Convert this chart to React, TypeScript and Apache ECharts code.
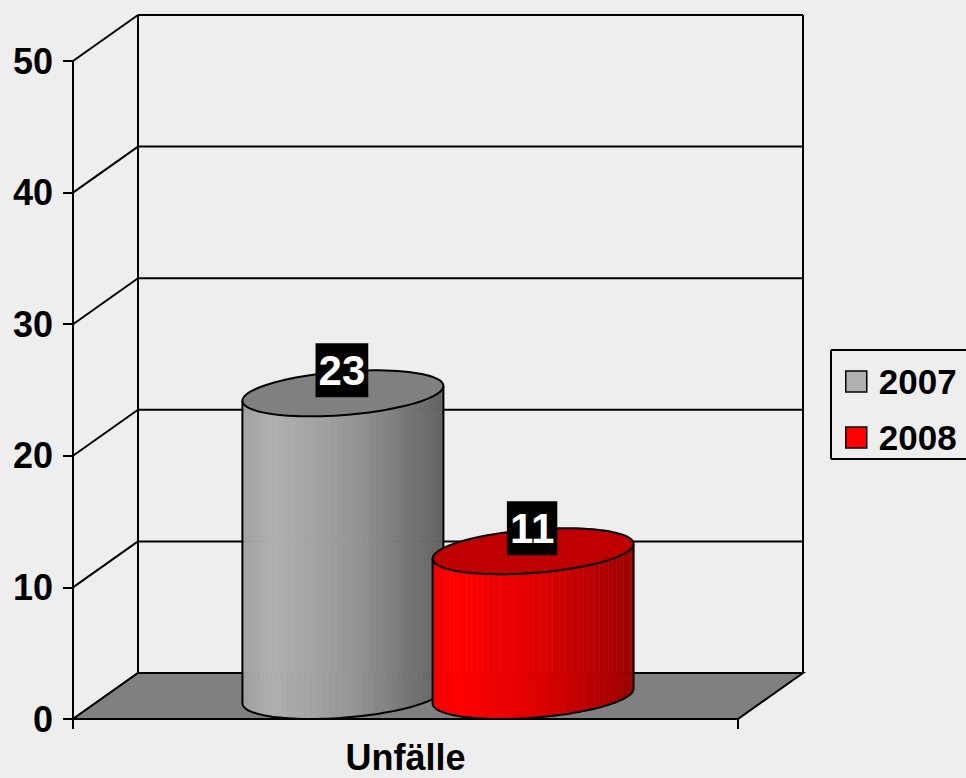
import React, { useEffect, useRef } from 'react';
import * as echarts from 'echarts';

const categories = ['Unfälle'];
const seriesNames = ['2007', '2008'];
const values2007 = [23];
const values2008 = [11];
const yTicks = [0, 10, 20, 30, 40, 50];

const DX = 65;
const DY = 46;
const FONT = '"Liberation Sans", Arial, sans-serif';
const BG = '#eeeeee';

type Stop = [number, [number, number, number]];
const grayStops: Stop[] = [
  [0, [160, 160, 160]],
  [0.15, [176, 176, 176]],
  [0.55, [150, 150, 150]],
  [1, [98, 98, 98]],
];
const redStops: Stop[] = [
  [0, [240, 0, 0]],
  [0.12, [255, 0, 0]],
  [0.55, [220, 0, 0]],
  [1, [155, 0, 0]],
];

function colorAt(stops: Stop[], t: number) {
  t = Math.max(0, Math.min(1, t));
  for (let i = 1; i < stops.length; i++) {
    if (t <= stops[i][0]) {
      const [t0, c0] = stops[i - 1];
      const [t1, c1] = stops[i];
      const f = (t - t0) / (t1 - t0 || 1);
      const c = c0.map((v, k) => Math.round(v + (c1[k] - v) * f));
      return `rgb(${c[0]},${c[1]},${c[2]})`;
    }
  }
  const c = stops[stops.length - 1][1];
  return `rgb(${c[0]},${c[1]},${c[2]})`;
}

function cylinderSeries(name: string, values: number[], idx: number, stops: Stop[], topColor: string, legendColor: string) {
  return {
    type: 'custom',
    name,
    z: 3,
    itemStyle: { color: legendColor },
    data: values.map((v, i) => [i, v]),
    renderItem: (params: any, api: any) => {
      const cat = api.value(0);
      const v = api.value(1);
      const bandW = api.size([1, 0])[0];
      const barW = bandW * 0.286;
      const r = barW / 2;
      const a = DX / 2;
      const b = DY / 2;
      const [cx0, yTop] = api.coord([cat, v]);
      const yBase = api.coord([cat, 0])[1];
      const fx = cx0 + (idx - 0.5) * barW + a;
      const ty = yTop - b;
      const by = yBase - b;
      const pt = (cy: number, th: number) => [fx + r * Math.cos(th) + a * Math.sin(th), cy - b * Math.sin(th)];
      const th0 = Math.atan2(a, r);
      const R = Math.sqrt(r * r + a * a);
      const leftX = fx - R;
      const N = 48;
      const children: any[] = [];
      for (let k = 0; k < N; k++) {
        const t1 = th0 + Math.PI + (Math.PI * k) / N;
        const t2 = th0 + Math.PI + (Math.PI * (k + 1)) / N;
        const p1 = pt(ty, t1), p2 = pt(ty, t2), p3 = pt(by, t2), p4 = pt(by, t1);
        const mid = (p1[0] + p2[0]) / 2;
        const col = colorAt(stops, (mid - leftX) / (2 * R));
        children.push({
          type: 'polygon',
          shape: { points: [p1, p2, p3, p4] },
          style: { fill: col, stroke: col, lineWidth: 0.6 },
        });
      }
      const sil: number[][] = [];
      sil.push(pt(ty, th0 + Math.PI));
      for (let k = 0; k <= 60; k++) sil.push(pt(by, th0 + Math.PI + (Math.PI * k) / 60));
      sil.push(pt(ty, th0));
      children.push({
        type: 'polyline',
        shape: { points: sil },
        style: { fill: null, stroke: '#000', lineWidth: 2 },
      });
      const topPts: number[][] = [];
      for (let k = 0; k < 90; k++) topPts.push(pt(ty, (2 * Math.PI * k) / 90));
      children.push({
        type: 'polygon',
        shape: { points: topPts },
        style: { fill: topColor, stroke: '#000', lineWidth: 2 },
      });
      children.push({
        type: 'text',
        x: fx - 1,
        y: ty - b,
        style: {
          text: String(v),
          fill: '#fff',
          backgroundColor: '#000',
          padding: [4, 3, 4, 3],
          font: `bold 42px ${FONT}`,
          lineHeight: 46,
          align: 'center',
          verticalAlign: 'middle',
        },
      });
      return { type: 'group', children };
    },
  };
}

export default function App() {
  const ref = useRef<HTMLDivElement>(null);
  useEffect(() => {
    if (!ref.current) return;
    const chart = echarts.init(ref.current, undefined, { renderer: 'svg' });
    const yMax = yTicks[yTicks.length - 1];
    const option: any = {
      animation: false,
      backgroundColor: BG,
      grid: { left: 73, right: 228, top: 61, bottom: 59 },
      graphic: [
        {
          type: 'line',
          shape: { x1: 831, y1: 350, x2: 980, y2: 350 },
          style: { stroke: '#000', lineWidth: 2 },
          z: 5,
        },
        {
          type: 'line',
          shape: { x1: 831, y1: 350, x2: 831, y2: 459 },
          style: { stroke: '#000', lineWidth: 2 },
          z: 5,
        },
        {
          type: 'line',
          shape: { x1: 831, y1: 459, x2: 980, y2: 459 },
          style: { stroke: '#000', lineWidth: 2 },
          z: 5,
        },
      ],
      legend: {
        orient: 'vertical',
        left: 831,
        top: 350,
        padding: [14, 0, 6, 14],
        itemWidth: 21,
        itemHeight: 21,
        itemGap: 21,
        borderWidth: 0,
        backgroundColor: 'transparent',
        selectedMode: false,
        textStyle: {
          fontFamily: FONT,
          fontSize: 35,
          fontWeight: 'bold',
          color: '#000',
          lineHeight: 34,
          padding: [0, 0, 0, 7],
        },
        data: [
          { name: seriesNames[0], icon: 'rect', itemStyle: { color: '#b0b0b0', borderColor: '#000', borderWidth: 1.5 } },
          { name: seriesNames[1], icon: 'rect', itemStyle: { color: '#ff0000', borderColor: '#000', borderWidth: 1.5 } },
        ],
      },
      xAxis: {
        type: 'category',
        data: categories,
        axisLine: { lineStyle: { color: '#000', width: 2 } },
        axisTick: { show: true, length: 10, lineStyle: { color: '#000', width: 2 } },
        axisLabel: { fontFamily: FONT, fontSize: 36, fontWeight: 'bold', color: '#000', margin: 20 },
        splitLine: { show: false },
      },
      yAxis: {
        type: 'value',
        min: 0,
        max: yMax,
        interval: 10,
        axisLine: { show: true, lineStyle: { color: '#000', width: 2 } },
        axisTick: { show: true, length: 10, lineStyle: { color: '#000', width: 2 } },
        axisLabel: { fontFamily: FONT, fontSize: 36, fontWeight: 'bold', color: '#000', margin: 20 },
        splitLine: { show: false },
      },
      series: [
        {
          type: 'custom',
          name: 'grid',
          z: 1,
          silent: true,
          data: yTicks.map((v) => [0, v]),
          renderItem: (params: any, api: any) => {
            const cs = params.coordSys;
            const y = api.coord([0, api.value(1)])[1];
            const x0 = cs.x;
            const x1 = cs.x + cs.width;
            return {
              type: 'group',
              children: [
                { type: 'line', shape: { x1: x0, y1: y, x2: x0 + DX, y2: y - DY }, style: { stroke: '#000', lineWidth: 2 } },
                { type: 'line', shape: { x1: x0 + DX, y1: y - DY, x2: x1 + DX, y2: y - DY }, style: { stroke: '#000', lineWidth: 2 } },
              ],
            };
          },
        },
        {
          type: 'custom',
          name: 'walls',
          z: 1,
          silent: true,
          data: [[0, yMax]],
          renderItem: (params: any, api: any) => {
            const cs = params.coordSys;
            const yT = api.coord([0, api.value(1)])[1];
            const y0 = api.coord([0, 0])[1];
            const x0 = cs.x;
            const x1 = cs.x + cs.width;
            return {
              type: 'group',
              children: [
                { type: 'line', shape: { x1: x0 + DX, y1: y0 - DY, x2: x0 + DX, y2: yT - DY }, style: { stroke: '#000', lineWidth: 2 } },
                { type: 'line', shape: { x1: x1 + DX, y1: y0 - DY, x2: x1 + DX, y2: yT - DY }, style: { stroke: '#000', lineWidth: 2 } },
                {
                  type: 'polygon',
                  shape: { points: [[x0, y0], [x1, y0], [x1 + DX, y0 - DY], [x0 + DX, y0 - DY]] },
                  style: { fill: '#808080', stroke: '#000', lineWidth: 2 },
                },
              ],
            };
          },
        },
        cylinderSeries(seriesNames[0], values2007, 0, grayStops, '#808080', '#b0b0b0'),
        cylinderSeries(seriesNames[1], values2008, 1, redStops, '#c00000', '#ff0000'),
      ],
    };
    chart.setOption(option);
    return () => chart.dispose();
  }, []);
  return (
    <div
      ref={ref}
      style={{ position: 'fixed', left: 0, top: 0, width: 966, height: 778, background: BG }}
    />
  );
}
